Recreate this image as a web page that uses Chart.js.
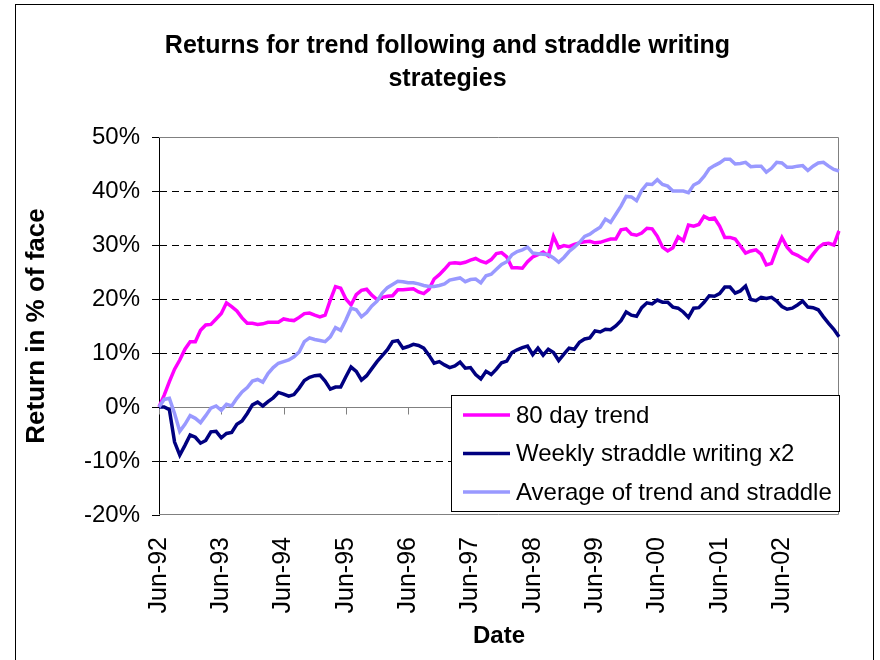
<!DOCTYPE html>
<html>
<head>
<meta charset="utf-8">
<script src="https://cdn.jsdelivr.net/npm/chart.js@4.4.0/dist/chart.umd.min.js"></script>
<style>
  body { margin: 0; background: #fff; }
  canvas { display: block; }
</style>
</head>
<body>
<canvas id="returns" width="880" height="660"></canvas>
<script>
const FONT = "'Liberation Sans', Arial, sans-serif";

// monthly categories, Jun-92 onwards
const monthNames = ['Jan', 'Feb', 'Mar', 'Apr', 'May', 'Jun', 'Jul', 'Aug', 'Sep', 'Oct', 'Nov', 'Dec'];
const monthCount = 132;
const dates = [];
for (let i = 0; i < monthCount; i++) {
  const m = (5 + i) % 12;
  const y = 92 + Math.floor((5 + i) / 12);
  dates.push(monthNames[m] + '-' + String(y % 100).padStart(2, '0'));
}

const seriesNames = ['80 day trend', 'Weekly straddle writing x2', 'Average of trend and straddle'];
const seriesColors = ['#FF00FF', '#000080', '#9999FF'];

// returns in % of face
const trend80 = [
  0, 2.2, 4.7, 7, 8.7, 10.7, 12.1, 12.1, 14.2, 15.2,
  15.3, 16.3, 17.3, 19.3, 18.6, 17.8, 16.5, 15.5, 15.5, 15.3,
  15.4, 15.7, 15.7, 15.7, 16.3, 16.1, 16, 16.6, 17.3, 17.4,
  17, 16.7, 17, 19.8, 22.3, 22, 20, 18.9, 20.8, 21.6,
  21.8, 20.7, 19.9, 20.3, 20.5, 20.6, 21.7, 21.7, 21.8, 21.9,
  21.3, 21, 21.8, 23.7, 24.5, 25.5, 26.6, 26.7, 26.6, 26.8,
  27.2, 27.5, 27, 26.7, 27.3, 28.4, 28.6, 27.8, 25.8, 25.8,
  25.7, 26.9, 27.8, 28.2, 28.7, 28, 31.6, 29.5, 29.9, 29.7,
  30.1, 30.4, 30.6, 30.7, 30.4, 30.5, 30.8, 31.1, 31.1, 32.8,
  33, 32, 31.8, 32.2, 33.1, 33, 31.6, 29.6, 28.9, 29.5,
  31.5, 30.8, 33.7, 33.5, 33.8, 35.3, 34.8, 35, 33.5, 31.4,
  31.4, 31.1, 29.8, 28.5, 28.9, 29.1, 28.3, 26.3, 26.6, 29.2,
  31.4, 29.6, 28.5, 28.1, 27.5, 27, 28.3, 29.5, 30.2, 30.3,
  30, 32.6
];

const straddleX2 = [
  0, 0, -0.5, -6.5, -8.9, -7.1, -5.2, -5.6, -6.7, -6.2,
  -4.6, -4.5, -5.7, -4.9, -4.7, -3.2, -2.6, -1.2, 0.4, 0.9,
  0.2, 1, 1.7, 2.7, 2.4, 2, 2.3, 3.5, 4.9, 5.5,
  5.8, 5.9, 4.8, 3.3, 3.7, 3.7, 5.6, 7.4, 6.6, 5,
  5.8, 7.1, 8.4, 9.5, 10.6, 12.1, 12.3, 10.9, 11.2, 11.6,
  11.4, 10.9, 9.6, 8.1, 8.4, 7.8, 7.3, 7.6, 8.3, 7.2,
  7.3, 6, 5.2, 6.6, 6, 7, 8.2, 8.5, 10.1, 10.6,
  11, 11.3, 9.7, 10.9, 9.6, 10.7, 10.1, 8.6, 9.8, 10.9,
  10.7, 12, 12.6, 12.8, 14.1, 13.9, 14.4, 14.3, 15, 16,
  17.6, 17, 16.8, 18.4, 19.3, 19.1, 19.8, 19.4, 19.4, 18.5,
  18.3, 17.6, 16.6, 18.3, 18.4, 19.4, 20.6, 20.5, 21, 22.2,
  22.2, 21.1, 21.5, 22.4, 19.9, 19.7, 20.3, 20.1, 20.3, 19.6,
  18.6, 18.1, 18.3, 18.9, 19.6, 18.5, 18.4, 18, 16.7, 15.5,
  14.4, 13
];

const average = [
  0, 1.4, 1.6, -1.2, -4.5, -3.2, -1.6, -2.1, -2.9, -1.6,
  -0.2, 0.2, -0.6, 0.5, 0.2, 1.6, 2.8, 3.6, 4.8, 5.1,
  4.6, 6.2, 7.3, 8.1, 8.4, 8.7, 9.3, 10.2, 12.1, 12.8,
  12.5, 12.3, 12.1, 13, 14.7, 14.2, 16.1, 18.3, 18, 16.7,
  17.5, 18.7, 19.6, 21.1, 22.1, 22.7, 23.3, 23.2, 23, 23,
  22.8, 22.5, 22.3, 22.3, 22.5, 22.8, 23.5, 23.7, 23.9, 23.2,
  23.6, 23.7, 23, 24.3, 24.6, 25.5, 26.4, 26.9, 28.2, 28.8,
  29.1, 29.6, 28.5, 28.4, 28.3, 28.2, 27.6, 26.8, 27.7, 28.8,
  29.6, 30.5, 31.6, 32, 32.7, 33.3, 34.8, 34.2, 35.7, 37.2,
  39, 38.9, 38.2, 40.1, 41.3, 41.2, 42.1, 41.2, 40.9, 40,
  40, 40, 39.7, 41.1, 41.6, 42.7, 44.1, 44.7, 45.2, 45.9,
  45.9, 45, 45.1, 45.3, 44.5, 44.6, 44.6, 43.5, 44.2, 45.3,
  45.2, 44.4, 44.4, 44.6, 44.7, 43.8, 44.6, 45.2, 45.3, 44.6,
  44, 43.7
];

const seriesValues = [trend80, straddleX2, average];

// white background + outer frame of the chart
const frame = {
  id: 'frame',
  beforeDraw(chart) {
    const ctx = chart.ctx;
    ctx.save();
    ctx.fillStyle = '#fff';
    ctx.fillRect(0, 0, chart.width, chart.height);
    ctx.strokeStyle = '#000';
    ctx.lineWidth = 1;
    ctx.strokeRect(15.5, 4.5, 858, 700);
    ctx.restore();
  }
};

// grey plot border, zero axis line and its tick marks (Excel style)
const plotBorder = {
  id: 'plotBorder',
  beforeDatasetsDraw(chart) {
    const {ctx, chartArea: a, scales} = chart;
    const y0 = Math.round(scales.y.getPixelForValue(0)) + 0.5;
    ctx.save();
    ctx.strokeStyle = '#808080';
    ctx.lineWidth = 1;
    ctx.beginPath();
    ctx.moveTo(a.left, a.top + 0.5);
    ctx.lineTo(a.right - 0.5, a.top + 0.5);
    ctx.lineTo(a.right - 0.5, a.bottom - 0.5);
    ctx.lineTo(a.left, a.bottom - 0.5);
    ctx.moveTo(a.left, y0);
    ctx.lineTo(a.right, y0);
    for (let i = 0; i < dates.length; i += 12) {
      const x = Math.round(scales.x.getPixelForValue(i)) + 0.5;
      ctx.moveTo(x, y0);
      ctx.lineTo(x, y0 + 7);
    }
    ctx.stroke();
    ctx.restore();
  }
};

// legend box inside the plot, bottom right
const boxedLegend = {
  id: 'boxedLegend',
  afterDraw(chart) {
    const ctx = chart.ctx;
    const a = chart.chartArea;
    const left = 451, top = 395, right = a.right + 1, bottom = 512;
    ctx.save();
    ctx.fillStyle = '#fff';
    ctx.fillRect(left, top, right - left, bottom - top);
    ctx.strokeStyle = '#000';
    ctx.lineWidth = 1;
    ctx.strokeRect(left + 0.5, top + 0.5, right - left - 1, bottom - top - 1);
    ctx.font = '24px ' + FONT;
    ctx.textBaseline = 'middle';
    ctx.fillStyle = '#000';
    chart.data.datasets.forEach((ds, i) => {
      const y = top + 20 + i * 38.5;
      ctx.strokeStyle = ds.borderColor;
      ctx.lineWidth = 3.5;
      ctx.beginPath();
      ctx.moveTo(463, y);
      ctx.lineTo(510, y);
      ctx.stroke();
      ctx.fillText(ds.label, 516, y + 1);
    });
    ctx.restore();
  }
};

new Chart(document.getElementById('returns'), {
  type: 'line',
  data: {
    labels: dates,
    datasets: seriesNames.map((name, i) => ({
      label: name,
      data: seriesValues[i],
      borderColor: seriesColors[i],
      backgroundColor: seriesColors[i],
      borderWidth: 3.5,
      pointRadius: 0,
      tension: 0,
      fill: false,
      order: [2, 1, 0][i]
    }))
  },
  options: {
    responsive: false,
    animation: false,
    layout: { padding: { left: 15, right: 0, top: 0, bottom: 0 } },
    plugins: {
      legend: { display: false },
      tooltip: { enabled: false },
      title: {
        display: true,
        text: ['Returns for trend following and straddle writing', 'strategies'],
        color: '#000',
        font: { family: FONT, size: 25, weight: 'bold', lineHeight: 1.32 },
        padding: { top: 30, bottom: 41 }
      }
    },
    scales: {
      x: {
        grid: { display: false },
        border: { display: false },
        ticks: {
          autoSkip: false,
          maxRotation: 90,
          minRotation: 90,
          padding: 14,
          color: '#000',
          font: { family: FONT, size: 25 },
          callback: function (val, index) {
            return index % 12 === 0 ? this.getLabelForValue(val) : null;
          }
        },
        title: {
          display: true,
          text: 'Date',
          color: '#000',
          font: { family: FONT, size: 24, weight: 'bold' },
          padding: { top: 0, bottom: 9 }
        },
        afterFit: (s) => { s.height = 145; }
      },
      y: {
        min: -20,
        max: 50,
        ticks: {
          stepSize: 10,
          padding: 12,
          color: '#000',
          font: { family: FONT, size: 24 },
          callback: (v) => v + '%'
        },
        grid: {
          color: (c) => ([50, 0, -20].includes(c.tick.value) ? 'rgba(0,0,0,0)' : '#000'),
          lineWidth: 1,
          tickColor: '#000',
          tickLength: 7,
          tickBorderDash: []
        },
        border: { display: true, color: '#000', width: 1, dash: [7, 5] },
        title: {
          display: true,
          text: 'Return in % of face',
          color: '#000',
          font: { family: FONT, size: 26, weight: 'bold' },
          padding: { top: 6, bottom: 0 }
        },
        afterFit: (s) => { s.width = 144; }
      },
      pad: {
        type: 'linear',
        position: 'right',
        display: true,
        grid: { display: false },
        border: { display: false },
        ticks: { display: false },
        afterFit: (s) => { s.width = 41; }
      }
    }
  },
  plugins: [frame, plotBorder, boxedLegend]
});
</script>
</body>
</html>
